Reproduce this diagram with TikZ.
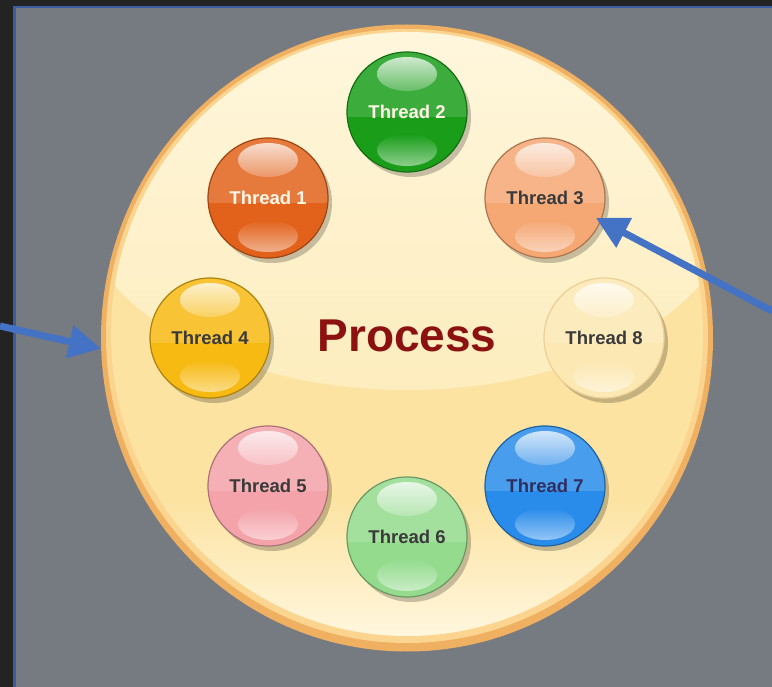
\documentclass[tikz,border=0pt]{standalone}
\usepackage{fontspec}
\setmainfont{Liberation Sans}
\usetikzlibrary{arrows.meta,shapes.geometric,shadows}

\definecolor{strip}{HTML}{232323}
\definecolor{backgray}{HTML}{767A81}
\definecolor{frameblue}{HTML}{3B5C9E}
\definecolor{pointerblue}{HTML}{4472C4}
\definecolor{rimorange}{HTML}{EFB062}
\definecolor{rimlight}{HTML}{FBD590}
\definecolor{diskyellow}{HTML}{FCE3A2}
\definecolor{glosstop}{HTML}{FFF7DF}
\definecolor{glossbottom}{HTML}{FDEDBE}
\definecolor{processred}{HTML}{8C1212}
\definecolor{darklabel}{HTML}{3A3A3A}
\definecolor{lightlabel}{HTML}{FFF6E6}
% ball colours
\definecolor{threadone}{HTML}{E2621B}
\definecolor{threadtwo}{HTML}{1A9E1A}
\definecolor{threadthree}{HTML}{F5A774}
\definecolor{threadfour}{HTML}{F7BA12}
\definecolor{threadfive}{HTML}{F4A3AA}
\definecolor{threadsix}{HTML}{94DB8E}
\definecolor{threadseven}{HTML}{2A8CEA}
\definecolor{threadeight}{HTML}{FCE8B2}

\tikzset{
  ball/.style={circle, minimum size=120pt, inner sep=0pt, fill=#1, draw=#1!70!black, line width=1.2pt,
    font=\fontsize{18.5}{20}\selectfont\bfseries, text=darklabel,
    drop shadow={shadow xshift=4pt, shadow yshift=-5pt, opacity=.22, fill=black},
    path picture={
      \fill[white, opacity=.15] ([yshift=-5pt]path picture bounding box.west) rectangle (path picture bounding box.north east);
      \shade[top color=white, bottom color=#1!60!white, opacity=.75] ([yshift=38pt]path picture bounding box.center) ellipse [x radius=30pt, y radius=17pt];
      \shade[top color=#1, bottom color=white, opacity=.5] ([yshift=-38pt]path picture bounding box.center) ellipse [x radius=30pt, y radius=16pt];
    }},
  pointer/.style={pointerblue, line width=7pt, -{Triangle[length=32pt, width=32pt]}},
  processlabel/.style={font=\fontsize{46}{50}\selectfont\bfseries, text=processred}
}

\begin{document}
\begin{tikzpicture}[x=1pt, y=-1pt]
  \useasboundingbox (0,0) rectangle (772,687);
  % slide background and frame
  \fill[strip] (0,0) rectangle (772,687);
  \fill[backgray] (15,7.5) rectangle (772,687);
  \draw[frameblue, line width=2.5pt] (14.5,687) -- (14.5,7) -- (772,7);

  % the process disk
  \node[ellipse, minimum width=612pt, minimum height=627pt, inner sep=0pt, fill=rimorange] (disk) at (407,338) {};
  \fill[rimlight] (407,336) ellipse [x radius=301pt, y radius=307pt];
  \fill[diskyellow] (407,334) ellipse [x radius=296pt, y radius=302pt];
  \begin{scope}
    \clip (407,334) ellipse [x radius=296pt, y radius=302pt];
    \shade[top color=diskyellow, bottom color=glosstop] (100,500) rectangle (715,640);
    \shade[top color=glosstop, bottom color=glossbottom] (407,195) ellipse [x radius=330pt, y radius=195pt];
  \end{scope}
  \node[processlabel] (process) at (407,336) {Process};

  % threads
  \node[ball=threadone, text=lightlabel] (t1) at (268,198) {Thread 1};
  \node[ball=threadtwo, text=lightlabel] (t2) at (407,112) {Thread 2};
  \node[ball=threadthree] (t3) at (545,198) {Thread 3};
  \node[ball=threadfour] (t4) at (210,338) {Thread 4};
  \node[ball=threadfive] (t5) at (268,486) {Thread 5};
  \node[ball=threadsix] (t6) at (407,537) {Thread 6};
  \node[ball=threadseven, text=darklabel!80!blue] (t7) at (545,486) {Thread 7};
  \node[ball=threadeight, draw=threadeight!75!brown] (t8) at (604,338) {Thread 8};

  % pointers
  \coordinate (lefttail) at (0,326);
  \coordinate (righttail) at (772,311);
  \draw[pointer] (lefttail) -- (disk.182);
  \draw[pointer, shorten >=-6pt] (righttail) -- (t3.-22);
\end{tikzpicture}
\end{document}
